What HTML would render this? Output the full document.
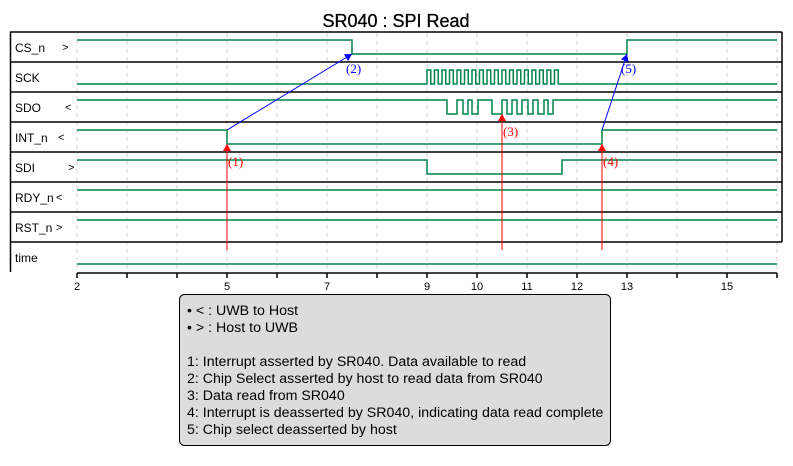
<!DOCTYPE html>
<html><head><meta charset="utf-8"><style>
html,body{margin:0;padding:0;background:#fff;}
svg{display:block;font-family:"Liberation Sans",sans-serif;}
</style></head><body>
<svg id="chart" width="793" height="466" viewBox="0 0 793 466">
<text x="396" y="27" text-anchor="middle" font-size="18" fill="#000" stroke="#000" stroke-width="0.3">SR040 : SPI Read</text>
<g id="grid"></g><g id="rows"></g><g id="signals"></g><g id="axis"></g><g id="arrows"></g>
<g>
<rect x="179.5" y="294.5" width="431" height="151" rx="5" fill="#dcdcdc" stroke="#000" stroke-width="1"/>
<g font-size="14.2" fill="#000">
<text x="187" y="315">• &lt; : UWB to Host</text>
<text x="187" y="332">• &gt; : Host to UWB</text>
<text x="187" y="366">1: Interrupt asserted by SR040. Data available to read</text>
<text x="187" y="383">2: Chip Select asserted by host to read data from SR040</text>
<text x="187" y="400">3: Data read from SR040</text>
<text x="187" y="417">4: Interrupt is deasserted by SR040, indicating data read complete</text>
<text x="187" y="434">5: Chip select deasserted by host</text>
</g></g>
</svg>
<script>
const rowNames = ["CS_n", "SCK", "SDO", "INT_n", "SDI", "RDY_n", "RST_n", "time"];
const rowDirs = [">", "", "<", "<", ">", "<", ">", ""];
const dirX = [62, 0, 65, 58, 68, 56, 56, 0];
const csEdges = [7.5, 13];            // starts high
const sckStart = 9, sckPulses = 18, sckPeriod = 0.15; // starts low
const sdoEdges = [9.4,9.6,9.72,9.82,9.9,10.02,10.3,10.5,10.6,10.7,10.8,10.9,11.02,11.12,11.22,11.34,11.42,11.52]; // starts high
const intEdges = [5, 12.5];           // starts high
const sdiEdges = [9, 11.7];           // starts high
const tickValues = [2,3,4,5,6,7,8,9,10,11,12,13,14,15,16];
const tickLabels = ["2","5","7","9","10","11","12","13","15"];
const arrowsBlue = [[5,"INT_n",7.5,"CS_n","(2)"],[12.5,"INT_n",13,"CS_n","(5)"]];
const arrowsRed = [[5,"INT_n","(1)"],[10.5,"SDO","(3)"],[12.5,"INT_n","(4)"]];

const NS="http://www.w3.org/2000/svg";
const X = t => 77 + (t-2)*50;
const rowTop = i => 32 + i*30;
const hiY = i => rowTop(i)+8, loY = i => rowTop(i)+22;
function mk(tag, attrs, parent){const e=document.createElementNS(NS,tag);for(const k in attrs)e.setAttribute(k,attrs[k]);parent.appendChild(e);return e;}
const grid=document.getElementById('grid'), rows=document.getElementById('rows'), sig=document.getElementById('signals'), ax=document.getElementById('axis'), arr=document.getElementById('arrows');

tickValues.forEach(t=>{
  const l=mk('line',{x1:X(t),x2:X(t),y1:33,y2:272,stroke:'#d0d0d0','stroke-dasharray':'4 4','stroke-width':1},grid);
  
  
});
rowNames.forEach((n,i)=>{
  const ln=mk('line',{x1:10,x2:782,y1:rowTop(i),y2:rowTop(i),stroke:'#000','stroke-width':1.5},rows);
  
  
  const tx=mk('text',{x:15,y:rowTop(i)+20,'font-size':12,fill:'#000'},rows);
  tx.textContent=n;
  
  
  if(rowDirs[i]){
    const d=mk('text',{x:dirX[i],y:rowTop(i)+19,'font-size':11,fill:'#000'},rows);
    d.textContent=rowDirs[i];
    
    
  }
});
mk('line',{x1:10.5,x2:10.5,y1:32,y2:272,stroke:'#000','stroke-width':1.5},rows);
mk('line',{x1:782,x2:782,y1:32,y2:242,stroke:'#000','stroke-width':1.5},rows);

function wave(i, startHigh, edges, name){
  let hi=startHigh, pts=[[X(2), hi?hiY(i):loY(i)]];
  edges.forEach(t=>{const x=X(t);pts.push([x,hi?hiY(i):loY(i)]);hi=!hi;pts.push([x,hi?hiY(i):loY(i)]);});
  pts.push([X(16),hi?hiY(i):loY(i)]);
  const p=mk('polyline',{points:pts.map(p=>p.join(',')).join(' '),fill:'none',stroke:'#00844a','stroke-width':1.5},sig);
  
  
}
const sckEdges=[];for(let k=0;k<sckPulses;k++){sckEdges.push(sckStart+k*sckPeriod, sckStart+k*sckPeriod+sckPeriod/2);}
wave(0,true,csEdges,'cs-n-waveform');
wave(1,false,sckEdges,'sck-waveform');
wave(2,true,sdoEdges,'sdo-waveform');
wave(3,true,intEdges,'int-n-waveform');
wave(4,true,sdiEdges,'sdi-waveform');
wave(5,true,[],'rdy-n-waveform');
wave(6,true,[],'rst-n-waveform');
wave(7,false,[],'time-waveform');

mk('line',{x1:X(2),x2:X(16),y1:273,y2:273,stroke:'#000','stroke-width':1.5},ax);
tickValues.forEach(t=>{
  const l=mk('line',{x1:X(t),x2:X(t),y1:273,y2:278,stroke:'#000','stroke-width':1.5},ax);
  
  
});
tickLabels.forEach(s=>{
  const t=mk('text',{x:X(+s),y:290,'text-anchor':'middle','font-size':11,fill:'#000'},ax);
  t.textContent=s;
  
  
});

function head(x,y,ang,color){
  const a=7,w=4;const c=Math.cos(ang),s=Math.sin(ang);
  const p=[[x,y],[x-a*c+w*s,y-a*s-w*c],[x-a*c-w*s,y-a*s+w*c]];
  mk('polygon',{points:p.map(q=>q.join(',')).join(' '),fill:color},arr);
}
arrowsBlue.forEach(a=>{
  const i0=rowNames.indexOf(a[1]), i1=rowNames.indexOf(a[3]);
  const x1=X(a[0]),y1=hiY(i0),x2=X(a[2]),y2=loY(i1);
  const l=mk('line',{x1:x1,y1:y1,x2:x2,y2:y2,stroke:'#0000ff','stroke-width':1},arr);
  
  
  head(x2,y2,Math.atan2(y2-y1,x2-x1),'#0000ff');
  const t=mk('text',{x:x2-6,y:y2+19,'font-size':13,fill:'#0000ff','font-family':'Liberation Serif, serif'},arr);
  t.textContent=a[4];
  
  
});
arrowsRed.forEach(a=>{
  const i=rowNames.indexOf(a[1]);const x=X(a[0]),y=loY(i);
  const l=mk('line',{x1:x,y1:250,x2:x,y2:y,stroke:'#ff0000','stroke-width':1},arr);
  
  
  head(x,y,-Math.PI/2,'#ff0000');
  const t=mk('text',{x:x+1,y:y+22,'font-size':13,fill:'#ff0000','font-family':'Liberation Serif, serif'},arr);
  t.textContent=a[2];
  
  
});
</script>
</body></html>
